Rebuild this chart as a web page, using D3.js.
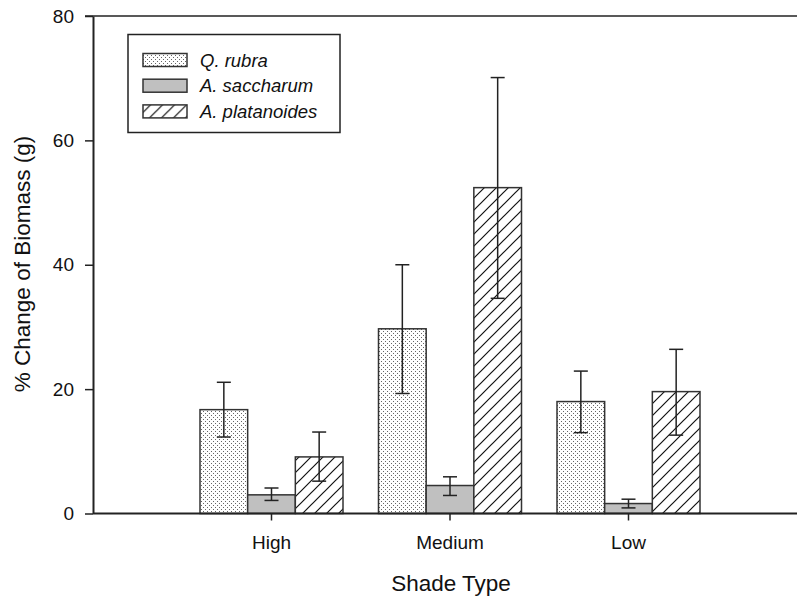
<!DOCTYPE html>
<html>
<head>
<meta charset="utf-8">
<script src="https://cdn.jsdelivr.net/npm/d3@7"></script>
<style>
  body { margin: 0; background: #fff; }
  svg { display: block; font-family: "Liberation Sans", Arial, sans-serif; }
</style>
</head>
<body>
<svg width="797" height="602"></svg>
<script>
// Données
const categories = ["High", "Medium", "Low"];
const especes = ["Q. rubra", "A. saccharum", "A. platanoides"];
const qRubra = [16.7, 29.7, 18.0];
const qRubraHaut = [21.1, 40.0, 22.9];
const qRubraBas = [12.3, 19.3, 13.0];
const aSaccharum = [3.0, 4.5, 1.6];
const aSaccharumHaut = [4.1, 5.9, 2.3];
const aSaccharumBas = [2.1, 2.9, 0.9];
const aPlatanoides = [9.1, 52.4, 19.6];
const aPlatanoidesHaut = [13.1, 70.1, 26.4];
const aPlatanoidesBas = [5.2, 34.6, 12.6];
const yTicks = [0, 20, 40, 60, 80];

const valeurs = [qRubra, aSaccharum, aPlatanoides];
const hauts = [qRubraHaut, aSaccharumHaut, aPlatanoidesHaut];
const bas = [qRubraBas, aSaccharumBas, aPlatanoidesBas];

const svg = d3.select("svg");

// Motifs de remplissage
const defs = svg.append("defs");
const points = defs.append("pattern")
    .attr("id", "points")
    .attr("patternUnits", "userSpaceOnUse")
    .attr("width", 4).attr("height", 4);
points.append("rect").attr("width", 4).attr("height", 4).attr("fill", "#fff");
points.append("rect").attr("x", 1).attr("y", 1).attr("width", 1).attr("height", 1).attr("fill", "#666");
points.append("rect").attr("x", 3).attr("y", 3).attr("width", 1).attr("height", 1).attr("fill", "#666");

const hachures = defs.append("pattern")
    .attr("id", "hachures")
    .attr("patternUnits", "userSpaceOnUse")
    .attr("width", 12).attr("height", 12);
hachures.append("rect").attr("width", 12).attr("height", 12).attr("fill", "#fff");
hachures.append("path")
    .attr("d", "M0,12 L12,0 M-3,3 L3,-3 M9,15 L15,9")
    .attr("stroke", "#111").attr("stroke-width", 1.2);

const remplissages = ["url(#points)", "#c0c0c0", "url(#hachures)"];

// Échelles
const yScale = d3.scaleLinear().domain([0, 80]).range([513.5, 16]);
const xScale = d3.scaleLinear().domain([0, 4]).range([93, 807]);
const groupe = 143;
const largeur = groupe / 3;

// Axe y
svg.append("g")
    .attr("transform", "translate(93,0)")
    .call(d3.axisLeft(yScale).tickValues(yTicks).tickSize(8).tickPadding(11).tickSizeOuter(0))
    .call(g => g.select(".domain").attr("stroke", "#222").attr("stroke-width", 2))
    .call(g => g.selectAll(".tick line").attr("stroke", "#222").attr("stroke-width", 1.5))
    .call(g => g.selectAll(".tick text").attr("font-size", 19).attr("fill", "#111")
        .style("font-family", "Liberation Sans, Arial, sans-serif"));

// Ligne du haut
svg.append("line")
    .attr("x1", 85).attr("x2", 797)
    .attr("y1", yScale(80)).attr("y2", yScale(80))
    .attr("stroke", "#222").attr("stroke-width", 1.5);

// Barres
especes.forEach((esp, j) => {
    svg.append("g")
        .selectAll("rect")
        .data(categories)
        .enter()
        .append("rect")
        .attr("x", (d, i) => xScale(i + 1) - groupe / 2 + j * largeur)
        .attr("y", (d, i) => yScale(valeurs[j][i]))
        .attr("width", largeur)
        .attr("height", (d, i) => yScale(0) - yScale(valeurs[j][i]))
        .attr("fill", remplissages[j])
        .attr("stroke", "#333")
        .attr("stroke-width", 1.5);
});

// Barres d'erreur
especes.forEach((esp, j) => {
    const g = svg.append("g").attr("stroke", "#222").attr("stroke-width", 1.5);
    categories.forEach((c, i) => {
        const cx = xScale(i + 1) - groupe / 2 + (j + 0.5) * largeur;
        g.append("line")
            .attr("x1", cx).attr("x2", cx)
            .attr("y1", yScale(hauts[j][i])).attr("y2", yScale(bas[j][i]));
        [hauts[j][i], bas[j][i]].forEach(v => {
            g.append("line")
                .attr("x1", cx - 7).attr("x2", cx + 7)
                .attr("y1", yScale(v)).attr("y2", yScale(v));
        });
    });
});

// Axe x
svg.append("line")
    .attr("x1", 93).attr("x2", 807)
    .attr("y1", yScale(0)).attr("y2", yScale(0))
    .attr("stroke", "#222").attr("stroke-width", 2);

svg.append("g")
    .selectAll("line")
    .data(categories)
    .enter()
    .append("line")
    .attr("x1", (d, i) => xScale(i + 1))
    .attr("x2", (d, i) => xScale(i + 1))
    .attr("y1", yScale(0)).attr("y2", yScale(0) + 7)
    .attr("stroke", "#222").attr("stroke-width", 1.5);

svg.append("g")
    .selectAll("text")
    .data(categories)
    .enter()
    .append("text")
    .attr("x", (d, i) => xScale(i + 1))
    .attr("y", 549)
    .attr("text-anchor", "middle")
    .attr("font-size", 19)
    .attr("fill", "#111")
    .text(d => d);

// Titres des axes
svg.append("text")
    .attr("x", 451).attr("y", 591)
    .attr("text-anchor", "middle")
    .attr("font-size", 22.5)
    .attr("fill", "#111")
    .text("Shade Type");

svg.append("text")
    .attr("transform", "translate(30,264) rotate(-90)")
    .attr("text-anchor", "middle")
    .attr("font-size", 22.5)
    .attr("fill", "#111")
    .text("% Change of Biomass (g)");

// Légende
svg.append("rect")
    .attr("x", 128).attr("y", 34.5)
    .attr("width", 212).attr("height", 98)
    .attr("fill", "#fff")
    .attr("stroke", "#222").attr("stroke-width", 1.5);

const legende = svg.append("g")
    .selectAll("g")
    .data(especes)
    .enter()
    .append("g")
    .attr("transform", (d, i) => `translate(0,${60 + i * 25.7})`);

legende.append("rect")
    .attr("x", 143).attr("y", -6.5)
    .attr("width", 44).attr("height", 13)
    .attr("fill", (d, i) => remplissages[i])
    .attr("stroke", "#333").attr("stroke-width", 1.5);

legende.append("text")
    .attr("x", 200).attr("y", 6.5)
    .attr("font-size", 18.5)
    .attr("font-style", "italic")
    .attr("fill", "#111")
    .text(d => d);
</script>
</body>
</html>
